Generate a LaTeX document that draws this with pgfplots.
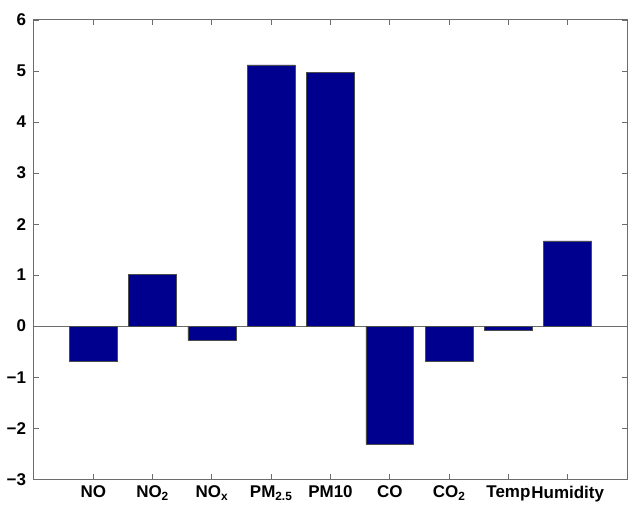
\documentclass[border=0pt]{standalone}
\usepackage{fontspec}
\setmainfont{Liberation Sans}
\usepackage{pgfplots}
\pgfplotsset{compat=1.18}
\definecolor{barblue}{RGB}{0,0,143}
\begin{document}
\fontsize{17}{20}\selectfont
\begin{tikzpicture}
\begin{axis}[
  scale only axis,
  width=594pt, height=460pt,
  xmin=0, xmax=10, ymin=-3, ymax=6,
  clip=false,
  xtick={1,2,3,4,5,6,7,8,9},
  xticklabels={NO,NO\textsubscript{2},NO\textsubscript{x},PM\textsubscript{2.5},PM10,CO,CO\textsubscript{2},Temp,Humidity},
  ytick={-3,-2,-1,0,1,2,3,4,5,6},
  yticklabels={−3,−2,−1,0,1,2,3,4,5,6},
  tick align=inside,
  major tick length=5pt,
  axis line style={draw=gray!85!black, line width=1pt},
  every tick/.style={gray!85!black, line width=0.8pt},
  ticklabel style={font=\fontsize{17}{20}\selectfont\bfseries, text=black},
  xticklabel style={yshift=-1pt},
  yticklabel style={xshift=-2pt},
]
\addplot[gray!85!black, line width=0.8pt] coordinates {(0,0) (10,0)};
\addplot[ybar, bar width=48pt, fill=barblue, draw=gray!60!black, line width=0.6pt] coordinates {
(1,-0.69) (2,1.02) (3,-0.28) (4,5.12) (5,4.98) (6,-2.31) (7,-0.69) (8,-0.08) (9,1.67)};
\path (rel axis cs:0,1) ++(-34pt,20pt) (rel axis cs:1,1) ++(2pt,0pt);
\end{axis}
\end{tikzpicture}
\end{document}
